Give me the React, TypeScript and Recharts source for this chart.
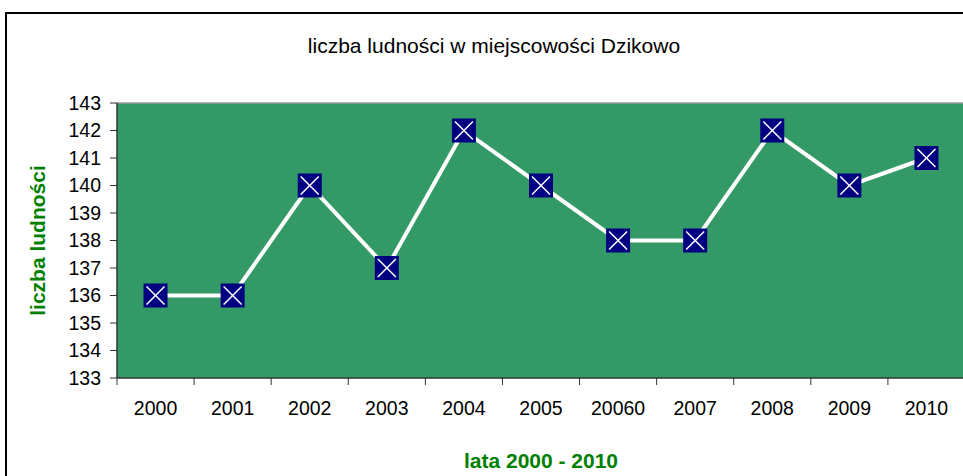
import React from 'react';
import { LineChart, Line, XAxis, YAxis, CartesianGrid, ReferenceLine } from 'recharts';

const categories = ['2000', '2001', '2002', '2003', '2004', '2005', '20060', '2007', '2008', '2009', '2010'];
const population = [136, 136, 140, 137, 142, 140, 138, 138, 142, 140, 141];
const yTicks = [133, 134, 135, 136, 137, 138, 139, 140, 141, 142, 143];
const edgeTicks = [0, 1, 2, 3, 4, 5, 6, 7, 8, 9, 10, 11];

const data = categories.map((c, i) => ({ year: c, value: population[i], pos: i + 0.5 }));

const FONT = 'Arial, "Liberation Sans", sans-serif';

const Marker = (props: any) => {
  const { cx, cy } = props;
  if (cx == null || cy == null) return null;
  const h = 12;
  const i = 9;
  return (
    <g>
      <rect x={cx - h} y={cy - h} width={2 * h} height={2 * h} fill="#000080" />
      <line x1={cx - i} y1={cy - i} x2={cx + i} y2={cy + i} stroke="#ffffff" strokeWidth={1.5} />
      <line x1={cx - i} y1={cy + i} x2={cx + i} y2={cy - i} stroke="#ffffff" strokeWidth={1.5} />
    </g>
  );
};

const YLabel = (props: any) => {
  const vb = props.viewBox || {};
  const x = vb.x + 32;
  const y = vb.y + vb.height / 2;
  return (
    <text x={x} y={y} transform={`rotate(-90, ${x}, ${y})`} textAnchor="middle" dominantBaseline="central"
      fill="#008000" fontWeight="bold" fontSize={21} fontFamily={FONT}>
      liczba ludności
    </text>
  );
};

export default function App() {
  return (
    <div style={{ position: 'absolute', left: 0, top: 0, width: 963, height: 476, overflow: 'hidden', background: '#fff' }}>
      <div style={{ position: 'absolute', left: 5, top: 12, width: 1000, height: 600, border: '2px solid #000', boxSizing: 'border-box' }} />
      <div style={{ position: 'absolute', left: 0, top: 33, width: 988, textAlign: 'center', fontFamily: FONT, fontSize: 21, lineHeight: '26px', color: '#000' }}>
        liczba ludności w miejscowości Dzikowo
      </div>
      <div style={{ position: 'absolute', left: 0, top: 0 }}>
        <LineChart width={970} height={476} data={data} margin={{ top: 103, right: 5, bottom: 8, left: 5 }}>
          <CartesianGrid xAxisId="b" horizontal={false} vertical={false} fill="#339966" stroke="none" />
          <XAxis xAxisId="a" dataKey="pos" type="number" domain={[0, 11]} ticks={edgeTicks} allowDataOverflow
            height={1} tickSize={7} tickFormatter={() => ''} axisLine={{ stroke: '#333', strokeWidth: 1.5 }}
            tickLine={{ stroke: '#333' }} />
          <XAxis xAxisId="b" dataKey="year" type="category" scale="band" interval={0} height={89} axisLine={false} tickLine={false}
            tickSize={0} tickMargin={22} tick={{ fill: '#000', fontSize: 19.5, fontFamily: FONT }}
            label={{ value: 'lata 2000 - 2010', position: 'insideBottom', offset: 0, fill: '#008000', fontWeight: 'bold', fontSize: 21, fontFamily: FONT }} />
          <YAxis domain={[133, 143]} ticks={yTicks} interval={0} width={112} tickSize={7} tickMargin={9}
            axisLine={{ stroke: '#333', strokeWidth: 1.5 }} tickLine={{ stroke: '#333' }}
            tick={{ fill: '#000', fontSize: 19.5, fontFamily: FONT }} label={<YLabel />} />
          <ReferenceLine xAxisId="b" y={143} stroke="#999" strokeWidth={1.5} />
          <Line xAxisId="b" dataKey="value" stroke="#ffffff" strokeWidth={4} dot={<Marker />} isAnimationActive={false} />
        </LineChart>
      </div>
    </div>
  );
}
